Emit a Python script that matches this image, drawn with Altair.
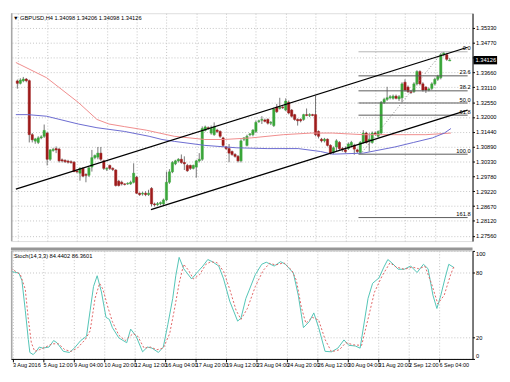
import altair as alt
import pandas as pd

# ---------------- data ----------------
opens = [1.3335, 1.3326, 1.3335, 1.3342, 1.3336, 1.3134, 1.3110, 1.3105, 1.3122, 1.3128,
         1.3140, 1.3042, 1.3075, 1.3082, 1.3080, 1.3040, 1.3038, 1.3035, 1.3033, 1.3031,
         1.2998, 1.2990, 1.3008, 1.2985, 1.2982, 1.3013, 1.3048, 1.3050, 1.3065, 1.3036,
         1.3005, 1.3019, 1.3008, 1.3002, 1.2960, 1.2956, 1.2950, 1.2950, 1.2950, 1.2956,
         1.2975, 1.2915, 1.2912, 1.2915, 1.2910, 1.2933, 1.2875, 1.2872, 1.2876, 1.2875,
         1.2890, 1.2956, 1.2995, 1.3025, 1.3036, 1.3042, 1.3030, 1.3019, 1.3019, 1.3008,
         1.3013, 1.3036, 1.3042, 1.3150, 1.3160, 1.3140, 1.3134, 1.3151, 1.3146, 1.3122,
         1.3088, 1.3082, 1.3071, 1.3060, 1.3053, 1.3036, 1.3117, 1.3094, 1.3134, 1.3134,
         1.3146, 1.3183, 1.3188, 1.3189, 1.3191, 1.3177, 1.3168, 1.3237, 1.3232, 1.3237,
         1.3226, 1.3255, 1.3226, 1.3209, 1.3191, 1.3191, 1.3191, 1.3209, 1.3206, 1.3209,
         1.3209, 1.3146, 1.3117, 1.3111, 1.3117, 1.3094, 1.3068, 1.3088, 1.3105, 1.3082,
         1.3077, 1.3082, 1.3094, 1.3094, 1.3077, 1.3067, 1.3105, 1.3140, 1.3111, 1.3105,
         1.3140, 1.3128, 1.3140, 1.3255, 1.3266, 1.3272, 1.3270, 1.3278, 1.3268, 1.3272,
         1.3330, 1.3312, 1.3295, 1.3295, 1.3324, 1.3370, 1.3324, 1.3312, 1.3301, 1.3307,
         1.3324, 1.3341, 1.3347, 1.3433, 1.3433, 1.34098]
highs = [1.3340, 1.3345, 1.3350, 1.3346, 1.3340, 1.3140, 1.3122, 1.3128, 1.3132, 1.3172,
         1.3145, 1.3080, 1.3085, 1.3090, 1.3085, 1.3045, 1.3042, 1.3040, 1.3038, 1.3035,
         1.3004, 1.3012, 1.3012, 1.2990, 1.3015, 1.3077, 1.3060, 1.3088, 1.3088, 1.3040,
         1.3012, 1.3022, 1.3012, 1.3005, 1.2965, 1.2962, 1.2952, 1.2956, 1.2962, 1.3027,
         1.2980, 1.2918, 1.2920, 1.2922, 1.2928, 1.2938, 1.2880, 1.2882, 1.2884, 1.2895,
         1.2996, 1.3005, 1.3035, 1.3040, 1.3046, 1.3060, 1.3053, 1.3025, 1.3022, 1.3022,
         1.3040, 1.3065, 1.3165, 1.3168, 1.3165, 1.3168, 1.3180, 1.3156, 1.3150, 1.3126,
         1.3092, 1.3099, 1.3075, 1.3065, 1.3058, 1.3117, 1.3125, 1.3134, 1.3140, 1.3155,
         1.3186, 1.3190, 1.3203, 1.3194, 1.3195, 1.3185, 1.3235, 1.3249, 1.3272, 1.3242,
         1.3270, 1.3262, 1.3230, 1.3212, 1.3195, 1.3195, 1.3212, 1.3232, 1.3214, 1.3212,
         1.3280, 1.3150, 1.3122, 1.3122, 1.3120, 1.3098, 1.3090, 1.3117, 1.3110, 1.3088,
         1.3090, 1.3105, 1.3111, 1.3100, 1.3082, 1.3110, 1.3151, 1.3145, 1.3140, 1.3146,
         1.3146, 1.3150, 1.3260, 1.3272, 1.3313, 1.3282, 1.3284, 1.3284, 1.3282, 1.3330,
         1.3341, 1.3318, 1.3301, 1.3330, 1.3375, 1.3375, 1.3330, 1.3315, 1.3310, 1.3330,
         1.3347, 1.3358, 1.3439, 1.3444, 1.3440, 1.34206]
lows = [1.3306, 1.3322, 1.3330, 1.3330, 1.3105, 1.3105, 1.3100, 1.3099, 1.3117, 1.3122,
        1.3019, 1.3036, 1.3070, 1.3065, 1.3030, 1.3030, 1.3028, 1.3026, 1.3025, 1.2994,
        1.2990, 1.2962, 1.2975, 1.2956, 1.2976, 1.2996, 1.3042, 1.3042, 1.3036, 1.3002,
        1.2998, 1.3002, 1.2998, 1.2940, 1.2940, 1.2944, 1.2944, 1.2946, 1.2946, 1.2952,
        1.2912, 1.2905, 1.2906, 1.2904, 1.2905, 1.2866, 1.2866, 1.2868, 1.2870, 1.2870,
        1.2885, 1.2950, 1.2990, 1.3020, 1.3030, 1.3025, 1.3002, 1.2995, 1.3002, 1.3004,
        1.2973, 1.3030, 1.3036, 1.3146, 1.3152, 1.3134, 1.3130, 1.3140, 1.3122, 1.3088,
        1.3077, 1.3031, 1.3055, 1.3048, 1.3030, 1.3030, 1.3110, 1.3090, 1.3128, 1.3128,
        1.3140, 1.3178, 1.3174, 1.3180, 1.3172, 1.3170, 1.3163, 1.3215, 1.3228, 1.3230,
        1.3222, 1.3210, 1.3198, 1.3186, 1.3168, 1.3180, 1.3186, 1.3203, 1.3200, 1.3203,
        1.3128, 1.3120, 1.3105, 1.3105, 1.3090, 1.3060, 1.3062, 1.3071, 1.3077, 1.3070,
        1.3065, 1.3077, 1.3088, 1.3059, 1.3065, 1.3062, 1.3100, 1.3100, 1.3071, 1.3100,
        1.3134, 1.3122, 1.3134, 1.3249, 1.3260, 1.3266, 1.3265, 1.3266, 1.3260, 1.3255,
        1.3295, 1.3290, 1.3286, 1.3290, 1.3318, 1.3318, 1.3295, 1.3290, 1.3296, 1.3301,
        1.3318, 1.3335, 1.3341, 1.3427, 1.3410, 1.34098]
closes = [1.3326, 1.3338, 1.3342, 1.3336, 1.3134, 1.3115, 1.3118, 1.3122, 1.3126, 1.3150,
          1.3042, 1.3077, 1.3079, 1.3077, 1.3036, 1.3036, 1.3033, 1.3031, 1.3030, 1.2996,
          1.2995, 1.3008, 1.2979, 1.2982, 1.3010, 1.3048, 1.3056, 1.3065, 1.3042, 1.3008,
          1.3008, 1.3008, 1.3004, 1.2944, 1.2944, 1.2950, 1.2948, 1.2952, 1.2956, 1.2990,
          1.2915, 1.2910, 1.2915, 1.2910, 1.2915, 1.2875, 1.2872, 1.2876, 1.2880, 1.2890,
          1.2956, 1.2995, 1.3030, 1.3036, 1.3042, 1.3030, 1.3025, 1.2999, 1.3008, 1.3019,
          1.3036, 1.3042, 1.3157, 1.3163, 1.3157, 1.3157, 1.3163, 1.3146, 1.3128, 1.3094,
          1.3082, 1.3065, 1.3060, 1.3053, 1.3036, 1.3111, 1.3122, 1.3128, 1.3137, 1.3151,
          1.3180, 1.3186, 1.3191, 1.3184, 1.3177, 1.3180, 1.3230, 1.3220, 1.3237, 1.3235,
          1.3260, 1.3215, 1.3203, 1.3191, 1.3186, 1.3186, 1.3209, 1.3206, 1.3209, 1.3206,
          1.3134, 1.3128, 1.3111, 1.3117, 1.3094, 1.3065, 1.3085, 1.3111, 1.3082, 1.3078,
          1.3071, 1.3099, 1.3105, 1.3080, 1.3071, 1.3105, 1.3140, 1.3105, 1.3117, 1.3140,
          1.3137, 1.3146, 1.3255, 1.3266, 1.3272, 1.3276, 1.3278, 1.3270, 1.3276, 1.3324,
          1.3301, 1.3295, 1.3292, 1.3324, 1.3370, 1.3324, 1.3301, 1.3301, 1.3305, 1.3324,
          1.3341, 1.3352, 1.3433, 1.3439, 1.3416, 1.34126]

# moving averages (bar position, value)
red_ma_bars = [-0.5, 9.8, 20.4, 26.7, 30.7, 36.0, 43.2, 52.6, 62.9, 69.2, 78.5, 89.2, 98.5, 105.7, 116.0, 126.6, 137.0, 145.4]
red_ma_vals = [1.3404, 1.3347, 1.3255, 1.3191, 1.3174, 1.3164, 1.3151, 1.3128, 1.3116, 1.3116, 1.3122, 1.3134, 1.3140, 1.3140, 1.3134, 1.3134, 1.3134, 1.3140]
blue_ma_bars = [-0.5, 3.5, 9.8, 20.4, 26.7, 36.0, 44.2, 48.5, 52.6, 62.9, 73.5, 83.8, 94.2, 101.7, 105.7, 116.0, 126.6, 132.9, 139.2, 143.2, 145.4]
blue_ma_vals = [1.3209, 1.3209, 1.3203, 1.3174, 1.3160, 1.3146, 1.3128, 1.3116, 1.3109, 1.3094, 1.3085, 1.3082, 1.3082, 1.3071, 1.3061, 1.3065, 1.3088, 1.3105, 1.3122, 1.3140, 1.3157]

# channel lines (start bar, start price, end bar, end price)
channel_names = ["upper", "lower"]
channel_x0 = [-0.5, 44.8]
channel_y0 = [1.2930, 1.2854]
channel_x1 = [151.0, 151.0]
channel_y1 = [1.3461, 1.3226]

# fibonacci retracement
fib_labels = ["0.0", "23.6", "38.2", "50.0", "61.8", "100.0", "161.8"]
fib_prices = [1.3444, 1.3354, 1.3298, 1.32525, 1.3207, 1.3061, 1.2824]
fib_start_bar = 114.4
fib_diag_bars = [115.1, 142.6]
fib_diag_prices = [1.3061, 1.3444]

# axes
price_ticks = [1.27560, 1.28120, 1.28670, 1.29220, 1.29780, 1.30330, 1.30890, 1.31440,
               1.32000, 1.32550, 1.33110, 1.33660, 1.34220, 1.34770, 1.35330]
tick_bars = [0, 10, 20, 30, 40, 50, 60, 70, 80, 90, 100, 110, 120, 130, 140]
time_labels = ["3 Aug 2016", "5 Aug 12:00", "9 Aug 04:00", "10 Aug 20:00", "12 Aug 12:00",
               "16 Aug 04:00", "17 Aug 20:00", "19 Aug 12:00", "23 Aug 04:00", "24 Aug 20:00",
               "26 Aug 12:00", "30 Aug 04:00", "31 Aug 20:00", "2 Sep 12:00", "6 Sep 04:00"]
current_price = 1.34126
header_text = "\u25bc GBPUSD,H4  1.34098 1.34206 1.34098 1.34126"
stoch_text = "Stoch(14,3,3) 84.4402 86.3601"

# stochastic (bar position, value)
stoch_main_bars = [-0.5, 2.1, 3.1, 4.2, 5.2, 5.7, 6.8, 7.8, 8.8, 9.9, 12.0, 13.5, 14.6, 16.7, 18.7, 20.3,
                   22.4, 24.3, 25.5, 26.6, 27.8, 29.2, 30.7, 31.8, 32.8, 34.9, 37.5, 38.8, 40.6, 42.7,
                   44.3, 45.8, 47.9, 49.5, 51.0, 52.6, 53.6, 54.7, 56.2, 57.3, 58.8, 60.9, 62.5, 64.1,
                   65.6, 67.7, 69.3, 71.3, 73.9, 75.0, 76.6, 77.6, 79.7, 81.8, 83.3, 85.9, 88.0, 89.6,
                   92.2, 93.8, 95.5, 97.4, 98.9, 100.5, 102.6, 104.7, 106.8, 108.8, 110.4, 112.5, 114.1,
                   116.7, 118.2, 120.3, 121.9, 123.2, 124.5, 126.6, 128.6, 130.7, 132.8, 134.9, 136.4,
                   138.0, 139.3, 140.6, 142.0, 143.2, 145.0]
stoch_main_vals = [81, 79.5, 72.6, 45, 18, 6, 4, 7, 11, 10, 11, 17, 15, 7, 6, 10,
                   17, 21, 45, 67, 77, 62, 38.5, 36.6, 29, 19.5, 15, 27.6, 21, 6.6,
                   11, 10, 6, 11, 32, 56, 77, 94, 83.5, 79.5, 74, 81, 86, 92,
                   90, 86, 74, 53.5, 35, 37.7, 56, 63, 78, 87.6, 89.5, 86, 90, 87.6,
                   79.5, 59, 29, 34.5, 42.6, 29, 7, 6.6, 10, 17.6, 12.6, 12, 10,
                   56, 70, 75, 85, 92, 89, 83, 83, 86, 80, 87.6, 83.5,
                   59, 46.7, 59, 75, 87.6, 84.4]
stoch_sig_bars = [-0.5, 2.6, 4.2, 5.2, 6.2, 7.3, 8.8, 10.9, 13.0, 15.1, 17.2, 19.3, 21.3, 23.9, 25.5,
                  27.1, 28.6, 29.7, 31.3, 32.8, 34.9, 37.0, 39.6, 41.1, 43.2, 45.3, 47.4, 49.5, 51.6,
                  53.1, 54.7, 56.2, 57.8, 59.4, 61.4, 63.5, 65.1, 67.2, 69.3, 71.3, 73.4, 75.0, 77.1,
                  79.7, 82.3, 84.4, 86.4, 89.1, 91.7, 93.2, 94.8, 96.3, 98.4, 100.5, 102.6, 104.7,
                  107.3, 109.4, 112.0, 114.6, 116.7, 118.8, 121.3, 123.9, 126.0, 128.6, 131.3, 133.3,
                  135.4, 137.5, 139.6, 141.7, 143.8, 145.0]
stoch_sig_vals = [84, 78, 64.5, 37, 15, 7, 8.5, 11, 14, 14, 8.5, 7, 10, 18, 26,
                  56, 70, 64.5, 48, 34.5, 22, 17, 23.5, 21, 10, 11, 8.5, 10, 23.5,
                  45, 70, 87.6, 82, 74, 78, 87.6, 90, 89, 81, 64.5, 45, 36.6, 46.7,
                  67, 82, 88.5, 87, 89, 82, 72.6, 48, 33, 38.5, 36, 18, 6.6,
                  8.5, 15, 13, 12.6, 37, 61.7, 76.7, 89, 85, 83, 85, 83.5,
                  85.7, 70, 51, 59, 78, 86.4]

# ---------------- styling ----------------
W = 470
HM = 232
HS = 110
FONT = "Liberation Sans"
XFONT = "Liberation Sans Narrow, Liberation Sans"
FS = 5.8
XFS = 5.6
GRID = "#c4c4c4"
BULL = "#3aa63a"
BEAR = "#9e1b1b"
WICK = "#3a3a3a"

xs = alt.Scale(domain=[-0.5, 151.0], nice=False, zero=False)
ys = alt.Scale(domain=[1.27361, 1.35882], nice=False, zero=False)
ss = alt.Scale(domain=[0, 100], nice=False, zero=False)

XM = alt.Axis(values=tick_bars, grid=True, gridDash=[1, 2], gridColor=GRID,
              labels=False, ticks=False, domain=False, title=None)
YM = alt.Axis(orient="right", values=price_ticks,
              labelExpr="abs(datum.value - 1.3422) < 0.00001 ? '' : format(datum.value, '.5f')",
              grid=True, gridDash=[1, 2], gridColor=GRID, domain=True, domainColor="black",
              tickColor="black", tickSize=2, labelPadding=1, labelFontSize=FS, labelFont=FONT,
              labelColor="black", labelOverlap=False, title=None)

label_arr = "[" + ",".join("'" + t + "'" for t in time_labels) + "]"
XS = alt.Axis(values=tick_bars, labelExpr=label_arr + "[round(datum.value/10)]",
              labelAlign="left", labelPadding=1, tickSize=3, tickColor="black",
              domain=True, domainColor="black", grid=True, gridDash=[1, 2], gridColor=GRID,
              labelOverlap=False, labelFlush=False, labelFontSize=XFS, labelFont=XFONT,
              labelColor="black", title=None)
YS = alt.Axis(orient="right", values=[0, 20, 80, 100], grid=True, gridDash=[1, 2],
              gridColor=GRID, domain=True, domainColor="black", tickColor="black", tickSize=2,
              labelFlush=True, labelPadding=1, labelFontSize=FS, labelFont=FONT,
              labelColor="black", title=None)


def mx(field):
    return alt.X(field, type="quantitative", scale=xs, axis=XM)


def my(field):
    return alt.Y(field, type="quantitative", scale=ys, axis=YM)


# ---------------- main panel ----------------
candles = pd.DataFrame({"bar": list(range(len(opens))), "open": opens, "high": highs,
                        "low": lows, "close": closes})
cbase = alt.Chart(candles)
wicks = cbase.mark_rule(color=WICK, strokeWidth=0.7).encode(x=mx("bar"), y=my("low"), y2="high")
ccol = alt.condition("datum.close >= datum.open", alt.value(BULL), alt.value(BEAR))
bodies = cbase.mark_bar(size=2.3, strokeWidth=0.5).encode(
    x=mx("bar"), y=my("open"), y2="close", color=ccol, stroke=ccol)

red_ma = alt.Chart(pd.DataFrame({"bar": red_ma_bars, "v": red_ma_vals})).mark_line(
    color="#f08c8c", strokeWidth=1).encode(x=mx("bar"), y=my("v"))
blue_ma = alt.Chart(pd.DataFrame({"bar": blue_ma_bars, "v": blue_ma_vals})).mark_line(
    color="#6a6ad0", strokeWidth=1).encode(x=mx("bar"), y=my("v"))

fib_df = pd.DataFrame({"lab": fib_labels, "p": fib_prices,
                       "x0": [fib_start_bar] * len(fib_labels), "x1": [151.0] * len(fib_labels)})
fib_lines = alt.Chart(fib_df).mark_rule(strokeWidth=1).encode(
    x=mx("x0"), x2="x1", y=my("p"),
    color=alt.condition("datum.lab == '0.0'", alt.value("#b4b4b4"), alt.value("#5a5a5a")))
fib_text = alt.Chart(fib_df).mark_text(align="right", baseline="bottom", dy=-0.5, fontSize=FS,
                                        font=FONT, color="black").encode(
    x=alt.value(W - 2), y=my("p"), text="lab:N")
fib_diag = alt.Chart(pd.DataFrame({"bar": fib_diag_bars, "v": fib_diag_prices})).mark_line(
    color="#8a8a8a", strokeWidth=1, strokeDash=[1, 2]).encode(x=mx("bar"), y=my("v"))

chan_df = pd.DataFrame({"name": channel_names, "x0": channel_x0, "y0": channel_y0,
                        "x1": channel_x1, "y1": channel_y1})
channels = alt.Chart(chan_df).mark_rule(color="black", strokeWidth=1.3).encode(
    x=mx("x0"), x2="x1", y=my("y0"), y2="y1")

cur_df = pd.DataFrame({"p": [current_price], "t": [f"{current_price:.5f}"]})
cur_box = alt.Chart(cur_df).mark_rule(color="black", strokeWidth=8.5).encode(
    x=alt.value(W + 1), x2=alt.value(W + 25), y=my("p"))
cur_txt = alt.Chart(cur_df).mark_text(align="left", baseline="middle", fontSize=FS, font=FONT,
                                       color="white").encode(
    x=alt.value(W + 3), y=my("p"), text="t:N")

head = alt.Chart(pd.DataFrame({"t": [header_text]})).mark_text(
    align="left", baseline="middle", fontSize=FS, font=FONT, color="black").encode(
    x=alt.value(2), y=alt.value(5), text="t:N")
left_bar_m = alt.Chart(pd.DataFrame({"a": [0]})).mark_rule(color="#a8a8a8", strokeWidth=1.6).encode(
    x=alt.value(0.8), y=alt.value(0), y2=alt.value(HM))

main = alt.layer(wicks, bodies, red_ma, blue_ma, fib_lines, fib_diag, fib_text, channels,
                 cur_box, cur_txt, head, left_bar_m).properties(width=W, height=HM)

# ---------------- stochastic panel ----------------
def sx(field):
    return alt.X(field, type="quantitative", scale=xs, axis=XS)


def sy(field):
    return alt.Y(field, type="quantitative", scale=ss, axis=YS)


st_main = alt.Chart(pd.DataFrame({"bar": stoch_main_bars, "v": stoch_main_vals})).mark_line(
    color="#52c4b6", strokeWidth=1).encode(x=sx("bar"), y=sy("v"))
st_sig = alt.Chart(pd.DataFrame({"bar": stoch_sig_bars, "v": stoch_sig_vals})).mark_line(
    color="#e06464", strokeWidth=1, strokeDash=[2, 2]).encode(x=sx("bar"), y=sy("v"))
sep = alt.Chart(pd.DataFrame({"a": [0]})).mark_rule(color="#969696", strokeWidth=3).encode(
    x=alt.value(0), x2=alt.value(W), y=alt.value(-2))
left_bar_s = alt.Chart(pd.DataFrame({"a": [0]})).mark_rule(color="#a8a8a8", strokeWidth=1.6).encode(
    x=alt.value(0.8), y=alt.value(0), y2=alt.value(HS))
st_head = alt.Chart(pd.DataFrame({"t": [stoch_text]})).mark_text(
    align="left", baseline="middle", fontSize=FS, font=FONT, color="black").encode(
    x=alt.value(3), y=alt.value(5), text="t:N")

stoch = alt.layer(st_main, st_sig, sep, left_bar_s, st_head).properties(width=W, height=HS)

chart = alt.vconcat(main, stoch, spacing=4).properties(
    padding={"left": 0, "top": 0, "right": 0, "bottom": 0}
).configure_view(stroke=None).configure(background="white")

chart.save("out.html", embed_options={"renderer": "svg", "actions": False})
